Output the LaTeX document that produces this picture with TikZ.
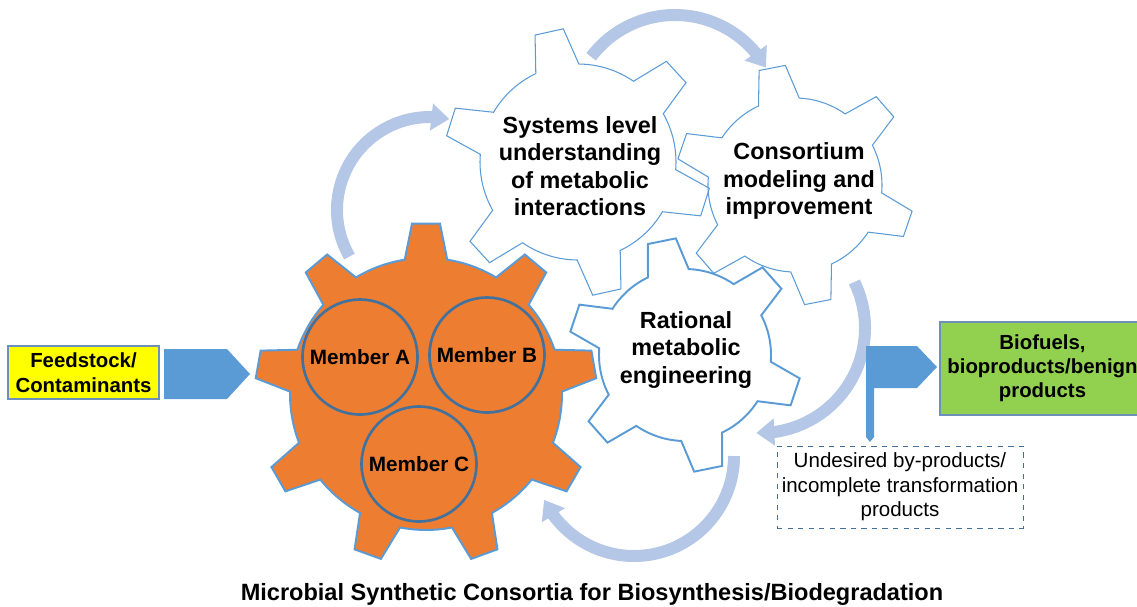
\documentclass[tikz,border=0pt]{standalone}
\usepackage{fontspec}
\setmainfont{Liberation Sans}
\usetikzlibrary{arrows.meta,bending}

\definecolor{gearline}{HTML}{5B9BD5}
\definecolor{cogorange}{HTML}{ED7D31}
\definecolor{memberline}{HTML}{41719C}
\definecolor{cyclearrow}{HTML}{B4C7E7}
\definecolor{feedyellow}{HTML}{FFFF00}
\definecolor{productgreen}{HTML}{92D050}
\definecolor{flowblue}{HTML}{5B9BD5}
\definecolor{boxline}{HTML}{6D8FB8}

% Outline of a cog wheel around the origin:
% #1 teeth, #2 root radius, #3 tip radius, #4 angle of first tooth,
% #5 half angle of a tooth at its root, #6 half angle at its tip
\newcommand{\cogpath}[6]{%
  ({#4-#5}:#2)
  \foreach \k [evaluate=\k as \ta using #4+360/#1*(\k-1)] in {1,...,#1}{
    -- ({\ta-#5}:#2) -- ({\ta-#6}:#3) -- ({\ta+#6}:#3) -- ({\ta+#5}:#2)
    arc[start angle=\ta+#5, end angle=\ta+360/#1-#5, radius=#2]
  } -- cycle}

\begin{document}
\begin{tikzpicture}[x=0.02cm, y=-0.02cm,
  whitecog/.style={draw=gearline, line width=0.6pt, line join=miter},
  boldcog/.style={draw=gearline, line width=1.1pt, line join=miter},
  orangecog/.style={draw=gearline, line width=1.1pt, fill=cogorange},
  cogtext/.style={align=center, font=\fontsize{13.3}{15.6}\selectfont\bfseries},
  member/.style={circle, draw=memberline, line width=1.5pt, minimum size=2.3cm,
    inner sep=0pt, font=\fontsize{11.8}{13}\selectfont\bfseries},
  cycle/.style={draw=cyclearrow, line width=0.24cm,
    -{Triangle[length=0.36cm, width=0.52cm]}},
  blockarrow/.style={fill=flowblue},
  feedbox/.style={draw=boxline, line width=0.6pt, fill=feedyellow, minimum width=3.02cm,
    minimum height=1.06cm, inner sep=0pt, align=center,
    font=\fontsize{11.6}{14.2}\selectfont\bfseries},
  productbox/.style={draw=boxline, line width=0.6pt, fill=productgreen, minimum width=4.1cm,
    minimum height=1.86cm, inner sep=0pt, align=center,
    font=\fontsize{11.6}{13.6}\selectfont\bfseries},
  wastebox/.style={draw=memberline, dashed, line width=0.5pt, minimum width=4.92cm,
    minimum height=1.64cm, inner sep=0pt, align=center,
    font=\fontsize{11.7}{13.9}\selectfont}]

\useasboundingbox (0,0) rectangle (1137,606);
\clip (0,0) rectangle (1137,606);

% cog centres
\coordinate (csys) at (578,162);
\coordinate (ccon) at (795,185);
\coordinate (crat) at (685,355);
\coordinate (ccore) at (426,394);

% outlined cogs of the engineering cycle
\begin{scope}[shift={(csys)}]
  \draw[whitecog] \cogpath{6}{98}{134}{-102.5}{13}{6.2};
\end{scope}
\begin{scope}[shift={(ccon)}]
  \draw[whitecog] \cogpath{6}{87}{120}{-101}{13.8}{6.4};
\end{scope}
\begin{scope}[shift={(crat)}]
  \draw[boldcog] \cogpath{6}{86}{117}{-101.5}{14}{7};
\end{scope}

% orange consortium cog
\begin{scope}[shift={(ccore)}]
  \draw[orangecog] \cogpath{9}{136}{171}{-90}{9}{4.7};
\end{scope}

% cog labels
\node[cogtext] (sys) at (580,166)
  {Systems level\\understanding\\of metabolic\\interactions};
\node[cogtext] (con) at (799,181) {Consortium\\modeling and\\improvement};
\node[cogtext] (rat) at (686,350) {Rational\\metabolic\\engineering};

% consortium members
\node[member] (ma) at (360,357) {Member A};
\node[member] (mb) at (487,355) {Member B};
\node[member] (mc) at (419,464) {Member C};

% curved arrows of the cycle
\draw[cycle] (430,210) ++(150:93) arc[start angle=150, end angle=282, radius=93];
\draw[cycle] (675,120) ++(217:105) arc[start angle=217, end angle=330, radius=105];
\draw[cycle] (760,328) ++(-26:105) arc[start angle=-26, end angle=92, radius=105];
\draw[cycle] (634,456) ++(0:100) arc[start angle=0, end angle=154, radius=100];

% input and outputs
\node[feedbox] (feed) at (83.5,372.5) {Feedstock/\\Contaminants};
\node[productbox] (prod) at (1042.5,368.5) {Biofuels,\\bioproducts/benign\\products};
\node[wastebox] (waste) at (900,487)
  {Undesired by-products/\\incomplete transformation\\products};

% block arrow into the consortium
\coordinate (inA) at (164,349);
\coordinate (inB) at (227,349);
\coordinate (inTip) at (250,374);
\coordinate (inC) at (227,399);
\coordinate (inD) at (164,399);
\fill[blockarrow] (inA) -- (inB) -- (inTip) -- (inC) -- (inD) -- cycle;

% signpost arrow splitting into products and by-products
\coordinate (outA) at (866,346);
\coordinate (outB) at (917,346);
\coordinate (outTip) at (937,367);
\coordinate (outC) at (917,388);
\coordinate (outD) at (874,388);
\coordinate (outE) at (874,437);
\coordinate (outDown) at (870,442);
\coordinate (outF) at (866,437);
\fill[blockarrow] (outA) -- (outB) -- (outTip) -- (outC) -- (outD) -- (outE)
  -- (outDown) -- (outF) -- cycle;

% caption
\node[font=\fontsize{13.4}{16}\selectfont\bfseries] (title) at (592,594)
  {Microbial Synthetic Consortia for Biosynthesis/Biodegradation};

\end{tikzpicture}
\end{document}
